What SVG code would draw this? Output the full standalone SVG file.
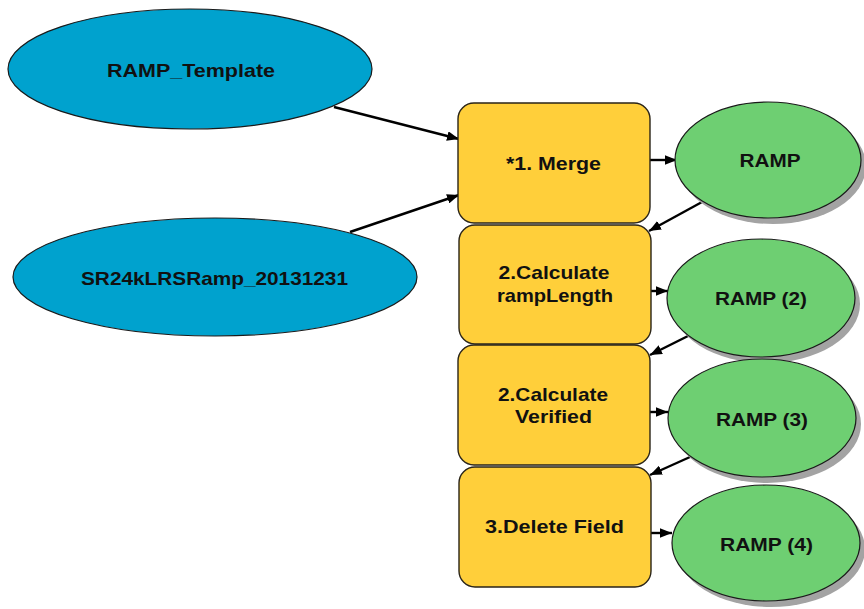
<svg xmlns="http://www.w3.org/2000/svg" width="864" height="609" viewBox="0 0 864 609">
<style>
.data{fill:#00A2CE;stroke:#1a1a1a;stroke-width:1.2}
.tool{fill:#FFCF3A;stroke:#2a2418;stroke-width:1.4}
.out{fill:#6ECF72;stroke:#1a1a1a;stroke-width:1.2}
.shadow{fill:#A3A3A3}
.lbl{font-family:"Liberation Sans",Arial,sans-serif;font-weight:bold;font-size:19px;fill:#111;text-anchor:middle}
.edge{stroke:#000;stroke-width:2.4;fill:none;marker-end:url(#ah)}
</style>
<defs>
<marker id="ah" viewBox="0 0 10 8" refX="10" refY="4" markerWidth="5" markerHeight="4" orient="auto" markerUnits="strokeWidth">
<path d="M0,0 L10,4 L0,8 Z" fill="#000"/>
</marker>
</defs>
<rect width="864" height="609" fill="#fff"/>
<g id="connectors">
<line class="edge" x1="334" y1="107" x2="459" y2="139"/>
<line class="edge" x1="350" y1="232" x2="459" y2="195"/>
<line class="edge" x1="650" y1="160" x2="677" y2="160"/>
<line class="edge" x1="702" y1="202" x2="649" y2="231"/>
<line class="edge" x1="651" y1="291" x2="668" y2="291"/>
<line class="edge" x1="688" y1="336" x2="650" y2="355"/>
<line class="edge" x1="650" y1="412" x2="668" y2="412"/>
<line class="edge" x1="690" y1="457" x2="650" y2="475"/>
<line class="edge" x1="651" y1="533" x2="672" y2="533"/>
</g>
<g id="RAMP_Template">
<ellipse class="data" cx="190" cy="69" rx="182" ry="60"/>
<text class="lbl" x="191" y="77" textLength="168" lengthAdjust="spacingAndGlyphs">RAMP_Template</text>
</g>
<g id="SR24kLRSRamp_20131231">
<ellipse class="data" cx="215" cy="277" rx="202" ry="59"/>
<text class="lbl" x="214.5" y="285" textLength="267" lengthAdjust="spacingAndGlyphs">SR24kLRSRamp_20131231</text>
</g>
<g id="Merge">
<rect class="tool" x="458" y="103" width="192" height="120" rx="16" ry="16"/>
<text class="lbl" x="553.5" y="170" textLength="95" lengthAdjust="spacingAndGlyphs">*1. Merge</text>
</g>
<g id="CalcRampLength">
<rect class="tool" x="459" y="225" width="192" height="119" rx="16" ry="16"/>
<text class="lbl" x="554" y="279" textLength="111" lengthAdjust="spacingAndGlyphs">2.Calculate</text>
<text class="lbl" x="555" y="302" textLength="116" lengthAdjust="spacingAndGlyphs">rampLength</text>
</g>
<g id="CalcVerified">
<rect class="tool" x="458" y="345" width="192" height="120" rx="16" ry="16"/>
<text class="lbl" x="553" y="401" textLength="110" lengthAdjust="spacingAndGlyphs">2.Calculate</text>
<text class="lbl" x="553.5" y="423" textLength="77" lengthAdjust="spacingAndGlyphs">Verified</text>
</g>
<g id="DeleteField">
<rect class="tool" x="459" y="467" width="192" height="120" rx="16" ry="16"/>
<text class="lbl" x="554.5" y="533" textLength="139" lengthAdjust="spacingAndGlyphs">3.Delete Field</text>
</g>
<g id="RAMP">
<ellipse class="shadow" cx="773" cy="166" rx="93" ry="58"/>
<ellipse class="out" cx="768" cy="160" rx="93" ry="58"/>
<text class="lbl" x="770" y="167" textLength="61" lengthAdjust="spacingAndGlyphs">RAMP</text>
</g>
<g id="RAMP2">
<ellipse class="shadow" cx="766" cy="304" rx="94" ry="59"/>
<ellipse class="out" cx="761" cy="298" rx="94" ry="59"/>
<text class="lbl" x="761" y="305" textLength="92" lengthAdjust="spacingAndGlyphs">RAMP (2)</text>
</g>
<g id="RAMP3">
<ellipse class="shadow" cx="767" cy="424" rx="94" ry="59"/>
<ellipse class="out" cx="762" cy="418" rx="94" ry="59"/>
<text class="lbl" x="762" y="426" textLength="92" lengthAdjust="spacingAndGlyphs">RAMP (3)</text>
</g>
<g id="RAMP4">
<ellipse class="shadow" cx="771" cy="549" rx="94" ry="58"/>
<ellipse class="out" cx="766" cy="543" rx="94" ry="58"/>
<text class="lbl" x="766.5" y="551" textLength="93" lengthAdjust="spacingAndGlyphs">RAMP (4)</text>
</g>
</svg>
